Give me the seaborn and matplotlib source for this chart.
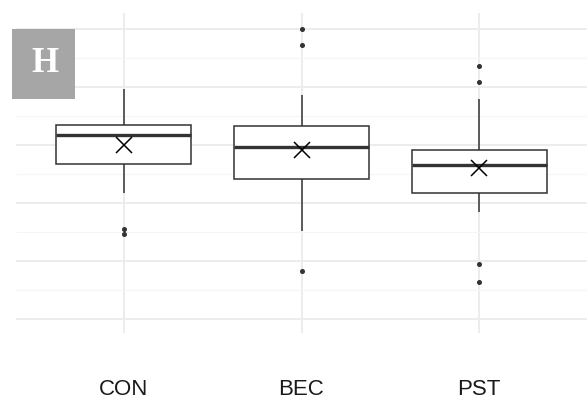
import matplotlib
matplotlib.use('Agg')
import matplotlib.pyplot as plt
import seaborn as sns
import pandas as pd
from matplotlib.patches import Rectangle
from matplotlib.ticker import MultipleLocator

# --- data (sorted observations per group, read from the box summaries) ---
categories = ['CON', 'BEC', 'PST']
con_values = [2.47, 2.55, 3.18, 3.67, 4.10, 4.15, 4.18, 4.25, 4.30, 4.35, 4.85, 4.90, 4.97]
bec_values = [1.83, 2.52, 2.90, 3.41, 3.50, 3.70, 3.97, 4.00, 4.05, 4.32, 4.86, 5.72, 6.00]
pst_values = [1.64, 1.95, 2.84, 3.18, 3.40, 3.55, 3.65, 3.70, 3.75, 3.91, 4.80, 5.08, 5.37]
panel_label = 'H'

df = pd.DataFrame({
    'group': ['CON'] * len(con_values) + ['BEC'] * len(bec_values) + ['PST'] * len(pst_values),
    'value': con_values + bec_values + pst_values,
})

sns.set_style('white')
plt.rcParams['font.family'] = ['Liberation Sans', 'DejaVu Sans']

fig = plt.figure(figsize=(5.87, 4.0), dpi=100)
ax = fig.add_axes([16 / 587, (400 - 333) / 400, (587 - 16) / 587, 320 / 400])

line_col = '#333333'
sns.boxplot(
    data=df, x='group', y='value', order=categories, ax=ax,
    width=0.76, color='white', linecolor=line_col, linewidth=1.1, saturation=1,
    showcaps=False, showmeans=True,
    meanprops=dict(marker='x', markersize=11, markeredgecolor='black',
                   markerfacecolor='black', markeredgewidth=1.1),
    medianprops=dict(linewidth=2.4, color=line_col),
    flierprops=dict(marker='o', markersize=2.6, markerfacecolor=line_col,
                    markeredgecolor=line_col),
)

# --- axes styling (ggplot minimal look) ---
ax.set_xlim(-0.608, 2.608)
ax.set_ylim(0.759, 6.276)
ax.yaxis.set_major_locator(MultipleLocator(1))
ax.yaxis.set_minor_locator(MultipleLocator(0.5))
ax.set_axisbelow(True)
ax.grid(which='major', axis='both', color='#ebebeb', linewidth=1.3)
ax.grid(which='minor', axis='y', color='#f5f5f5', linewidth=0.8)
ax.tick_params(axis='y', which='both', length=0, labelleft=False)
ax.tick_params(axis='x', length=0, pad=33, labelsize=16, labelcolor='#1a1a1a')
ax.set_xlabel('')
ax.set_ylabel('')
for s in ax.spines.values():
    s.set_visible(False)

# --- panel label ---
fig.patches.append(Rectangle((12 / 587, (400 - 99) / 400), 63 / 587, 70 / 400,
                             transform=fig.transFigure, facecolor='#a6a6a6',
                             edgecolor='none', zorder=5))
fig.text(45.3 / 587, (400 - 63) / 400, panel_label, ha='center', va='center',
         color='white', fontsize=25, fontweight='bold',
         family='Liberation Serif', zorder=6)

fig.savefig('out.png', dpi=100)
